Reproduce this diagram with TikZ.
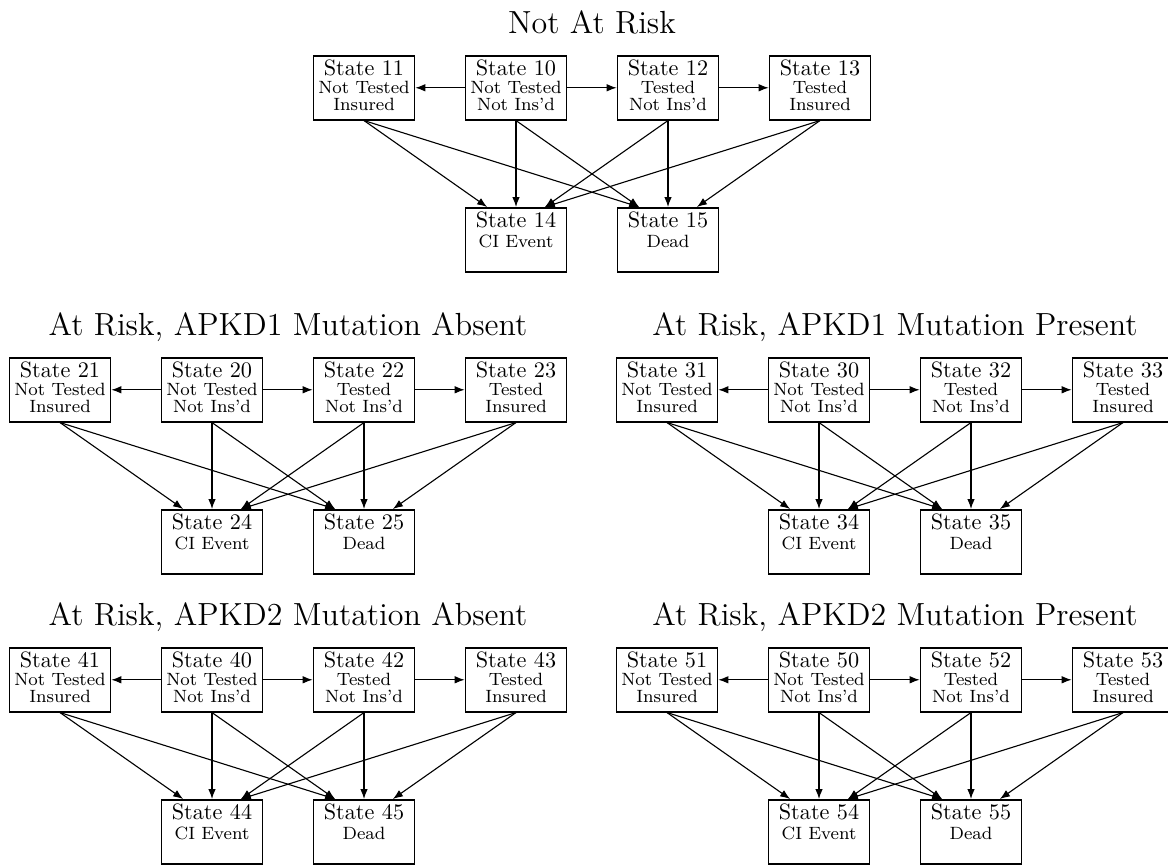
\documentclass[tikz,border=0pt]{standalone}
\usetikzlibrary{arrows.meta}

\tikzset{
  statebox/.style={draw, line width=0.7pt, anchor=north, inner sep=0.6pt,
    minimum width=45.5pt, minimum height=28pt},
  trans/.style={-{Latex[length=4.5pt,width=3.4pt]}, line width=0.5pt},
  blocktitle/.style={anchor=base, font=\Large, inner sep=0pt}
}

% box texts
\newcommand{\statetext}[3]{\begin{tabular}{@{}c@{}}State #1\\[-4.2pt]\footnotesize #2\\[-4.2pt]\footnotesize #3\end{tabular}}
\newcommand{\finaltext}[2]{\begin{tabular}{@{}c@{}}State #1\\[-3pt]\footnotesize #2\\[-5.4pt]\mbox{}\end{tabular}}

% one block: centre x, top y, title, first digit
\newcommand{\riskblock}[4]{%
  \node[blocktitle] (t#4) at (#1,#2-22) {#3};
  \node[statebox] (s#41) at (#1-228,#2) {\statetext{#41}{Not Tested}{Insured}};
  \node[statebox] (s#40) at (#1-76,#2) {\statetext{#40}{Not Tested}{Not Ins'd}};
  \node[statebox] (s#42) at (#1+76,#2) {\statetext{#42}{Tested}{Not Ins'd}};
  \node[statebox] (s#43) at (#1+228,#2) {\statetext{#43}{Tested}{Insured}};
  \node[statebox] (s#44) at (#1-76,#2+152) {\finaltext{#44}{CI Event}};
  \node[statebox] (s#45) at (#1+76,#2+152) {\finaltext{#45}{Dead}};
  \draw[trans] (s#40.west) -- (s#41.east);
  \draw[trans] (s#40.east) -- (s#42.west);
  \draw[trans] (s#42.east) -- (s#43.west);
  \draw[trans] (s#41.south) -- ([xshift=-13pt]s#44.north);
  \draw[trans] (s#41.south) -- ([xshift=-13pt]s#45.north);
  \draw[trans] (s#40.south) -- (s#44.north);
  \draw[trans] (s#40.south) -- ([xshift=-13pt]s#45.north);
  \draw[trans] (s#42.south) -- ([xshift=13pt]s#44.north);
  \draw[trans] (s#42.south) -- (s#45.north);
  \draw[trans] (s#43.south) -- ([xshift=13pt]s#44.north);
  \draw[trans] (s#43.south) -- ([xshift=13pt]s#45.north);
}

\begin{document}
\begin{tikzpicture}[x=0.45pt, y=-0.45pt]
  \useasboundingbox (0,0) rectangle (1168,867);
  \riskblock{592}{55}{Not At Risk}{1}
  \riskblock{288}{357}{At Risk, APKD1 Mutation Absent}{2}
  \riskblock{895}{357}{At Risk, APKD1 Mutation Present}{3}
  \riskblock{288}{647}{At Risk, APKD2 Mutation Absent}{4}
  \riskblock{895}{647}{At Risk, APKD2 Mutation Present}{5}
\end{tikzpicture}
\end{document}
